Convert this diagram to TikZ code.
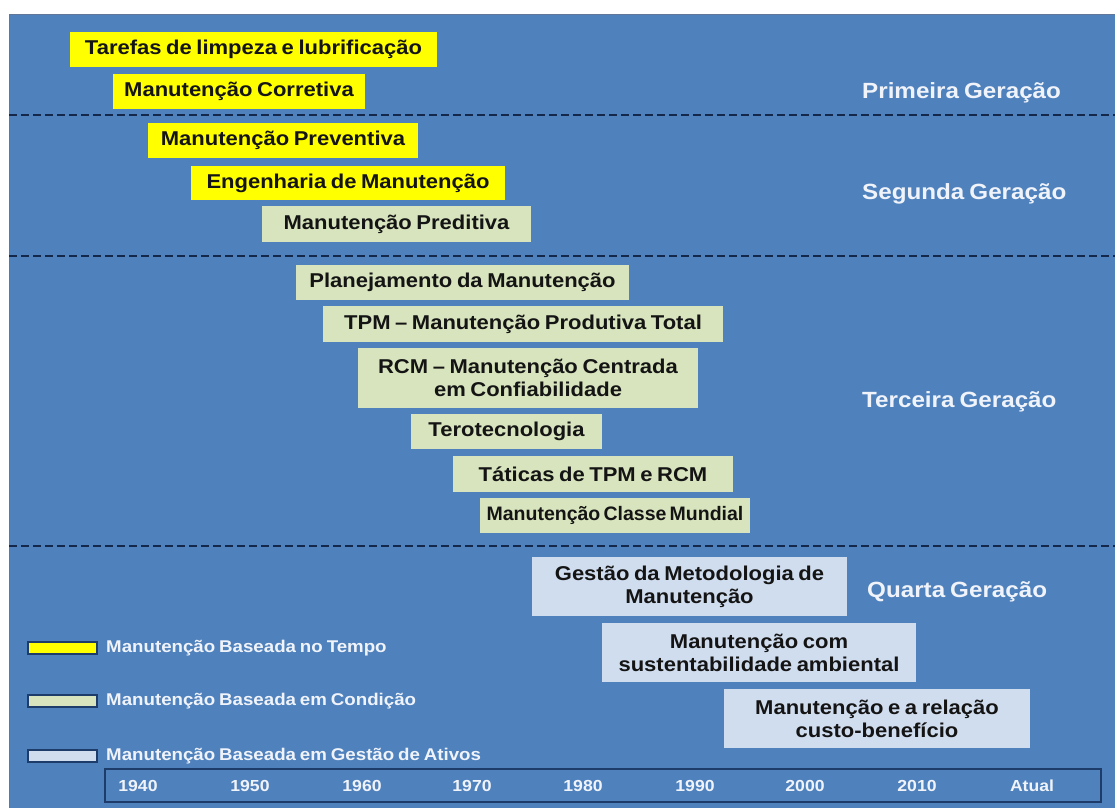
\documentclass[tikz,border=0pt]{standalone}
\usepackage{fontspec}
\setmainfont{Liberation Sans}
\newfontfamily\widesans[FakeStretch=1.1, WordSpace=0.75]{Liberation Sans}
\newfontfamily\tightsans[FakeStretch=1.0, WordSpace=0.6]{Liberation Sans}
\definecolor{panel}{HTML}{4F81BD}
\definecolor{rule}{HTML}{14284B}
\definecolor{timebox}{HTML}{FFFF00}
\definecolor{condbox}{HTML}{D7E4BD}
\definecolor{assetbox}{HTML}{D0DDEF}
\definecolor{ink}{HTML}{141414}
\definecolor{paleink}{HTML}{F0F4FA}
\definecolor{edge}{HTML}{1E3C6A}
\tikzset{
  entry/.style={rectangle, inner sep=0pt, text=ink, align=center,
    font=\widesans\fontsize{20}{23}\selectfont\bfseries},
  tightentry/.style={font=\tightsans\fontsize{19.5}{23}\selectfont\bfseries},
  tbox/.style={entry, fill=timebox},
  cbox/.style={entry, fill=condbox},
  abox/.style={entry, fill=assetbox},
  genlabel/.style={anchor=west, inner sep=0pt, text=paleink,
    font=\widesans\fontsize{22}{24}\selectfont\bfseries},
  sep/.style={draw=rule, line width=2.6pt, dash pattern=on 8pt off 4pt},
  swatch/.style={rectangle, inner sep=0pt, draw=edge, line width=1.2pt,
    minimum width=69pt, minimum height=12pt},
  legtext/.style={anchor=west, inner sep=0pt, text=paleink,
    font=\widesans\fontsize{17}{19}\selectfont\bfseries},
  year/.style={inner sep=0pt, text=paleink,
    font=\widesans\fontsize{16}{18}\selectfont\bfseries}
}
\begin{document}
\begin{tikzpicture}[x=1pt,y=-1pt]
\useasboundingbox (0,0) rectangle (1115,808);
\fill[white] (0,0) rectangle (1115,808);
% panel
\fill[panel] (9,14) rectangle (1115,808);
\draw[edge!70, line width=1pt] (9.5,808) -- (9.5,14.5) -- (1115,14.5);

% generation separators
\draw[sep] (9,115) -- (1115,115);
\draw[sep] (9,256) -- (1115,256);
\draw[sep] (9,546) -- (1115,546);

% first and second generation
\node[tbox, minimum width=367pt, minimum height=35pt] (limpeza) at (253.5,49.5) {Tarefas de limpeza e lubrificação};
\node[tbox, minimum width=252pt, minimum height=35pt] (corretiva) at (239,91.5) {Manutenção Corretiva};
\node[tbox, minimum width=270pt, minimum height=35pt] (preventiva) at (283,140.5) {Manutenção Preventiva};
\node[tbox, minimum width=314pt, minimum height=34pt] (engenharia) at (348,183) {Engenharia de Manutenção};
\node[cbox, minimum width=269pt, minimum height=36pt] (preditiva) at (396.5,224) {Manutenção Preditiva};

% third generation
\node[cbox, minimum width=333pt, minimum height=35pt] (planejamento) at (462.5,282.5) {Planejamento da Manutenção};
\node[cbox, minimum width=400pt, minimum height=36pt] (tpm) at (523,324) {TPM – Manutenção Produtiva Total};
\node[cbox, minimum width=340pt, minimum height=60pt] (rcm) at (528,378) {RCM – Manutenção Centrada\\em Confiabilidade};
\node[cbox, minimum width=191pt, minimum height=35pt] (tero) at (506.5,431.5) {Terotecnologia};
\node[cbox, minimum width=280pt, minimum height=36pt] (taticas) at (593,474) {Táticas de TPM e RCM};
\node[cbox, tightentry, minimum width=270pt, minimum height=35pt] (classe) at (615,515.5) {Manutenção Classe Mundial};

% fourth generation
\node[abox, minimum width=315pt, minimum height=59pt] (gestao) at (689.5,586.5) {Gestão da Metodologia de\\Manutenção};
\node[abox, minimum width=314pt, minimum height=59pt] (ambiental) at (759,652.5) {Manutenção com\\sustentabilidade ambiental};
\node[abox, minimum width=306pt, minimum height=59pt] (custo) at (877,718.5) {Manutenção e a relação\\custo-benefício};

% generation labels
\node[genlabel] (g1) at (862,93) {Primeira Geração};
\node[genlabel] (g2) at (862,194) {Segunda Geração};
\node[genlabel] (g3) at (862,402) {Terceira Geração};
\node[genlabel] (g4) at (867,592) {Quarta Geração};

% legend
\node[swatch, fill=timebox] (sw1) at (62.5,648) {};
\node[legtext] (l1) at (106,648) {Manutenção Baseada no Tempo};
\node[swatch, fill=condbox] (sw2) at (62.5,701) {};
\node[legtext] (l2) at (106,701) {Manutenção Baseada em Condição};
\node[swatch, fill=assetbox] (sw3) at (62.5,756) {};
\node[legtext] (l3) at (106,756) {Manutenção Baseada em Gestão de Ativos};

% time axis
\draw[edge, line width=1.5pt] (105,769) rectangle (1101,802);
\foreach \lbl/\px [count=\i] in {1940/138,1950/250,1960/362,1970/472,1980/583,1990/695,2000/805,2010/917,Atual/1032}
  \node[year] (y\i) at (\px,786) {\lbl};
\end{tikzpicture}
\end{document}
